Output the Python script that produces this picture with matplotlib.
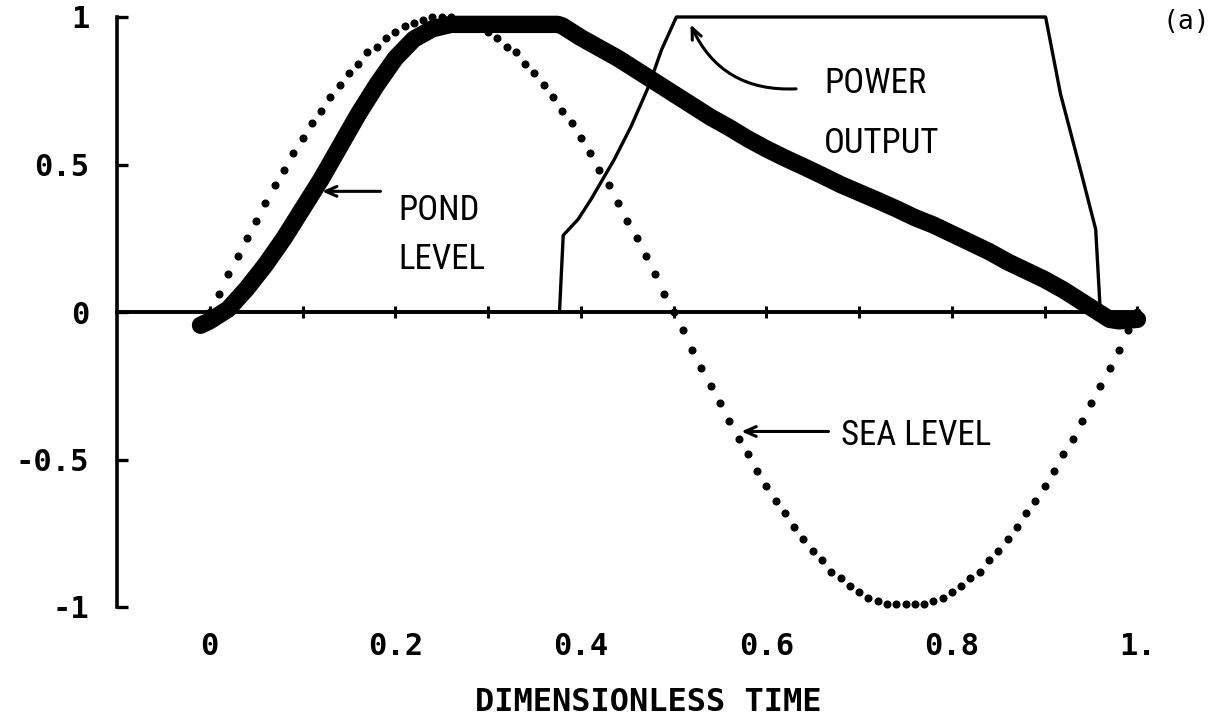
import numpy as np
import matplotlib
matplotlib.use("Agg")
import matplotlib.pyplot as plt
import matplotlib.font_manager as fm

# ---------------- data ----------------
sea_time = [0.00, 0.01, 0.02, 0.03, 0.04, 0.05, 0.06, 0.07, 0.08, 0.09,
            0.10, 0.11, 0.12, 0.13, 0.14, 0.15, 0.16, 0.17, 0.18, 0.19,
            0.20, 0.21, 0.22, 0.23, 0.24, 0.25, 0.26, 0.27, 0.28, 0.29,
            0.30, 0.31, 0.32, 0.33, 0.34, 0.35, 0.36, 0.37, 0.38, 0.39,
            0.40, 0.41, 0.42, 0.43, 0.44, 0.45, 0.46, 0.47, 0.48, 0.49,
            0.50, 0.51, 0.52, 0.53, 0.54, 0.55, 0.56, 0.57, 0.58, 0.59,
            0.60, 0.61, 0.62, 0.63, 0.64, 0.65, 0.66, 0.67, 0.68, 0.69,
            0.70, 0.71, 0.72, 0.73, 0.74, 0.75, 0.76, 0.77, 0.78, 0.79,
            0.80, 0.81, 0.82, 0.83, 0.84, 0.85, 0.86, 0.87, 0.88, 0.89,
            0.90, 0.91, 0.92, 0.93, 0.94, 0.95, 0.96, 0.97, 0.98, 0.99, 1.00]
sea_level = [0.00, 0.06, 0.13, 0.19, 0.25, 0.31, 0.37, 0.43, 0.48, 0.54,
             0.59, 0.64, 0.68, 0.73, 0.77, 0.81, 0.84, 0.88, 0.90, 0.93,
             0.95, 0.97, 0.98, 0.99, 1.00, 1.00, 1.00, 0.99, 0.98, 0.97,
             0.95, 0.93, 0.90, 0.88, 0.84, 0.81, 0.77, 0.73, 0.68, 0.64,
             0.59, 0.54, 0.48, 0.43, 0.37, 0.31, 0.25, 0.19, 0.13, 0.06,
             0.00, -0.06, -0.13, -0.19, -0.25, -0.31, -0.37, -0.43, -0.48, -0.54,
             -0.59, -0.64, -0.68, -0.73, -0.77, -0.81, -0.84, -0.88, -0.90, -0.93,
             -0.95, -0.97, -0.98, -0.99, -0.99, -0.99, -0.99, -0.99, -0.98, -0.97,
             -0.95, -0.93, -0.90, -0.88, -0.84, -0.81, -0.77, -0.73, -0.68, -0.64,
             -0.59, -0.54, -0.48, -0.43, -0.37, -0.31, -0.25, -0.19, -0.13, -0.06, 0.00]

pond_time = [-0.01, 0.00, 0.02, 0.04, 0.06, 0.08, 0.10, 0.12, 0.14, 0.16,
             0.18, 0.20, 0.22, 0.24, 0.26, 0.30, 0.34, 0.375, 0.38, 0.40,
             0.42, 0.44, 0.46, 0.48, 0.50, 0.52, 0.54, 0.56, 0.58, 0.60,
             0.62, 0.64, 0.66, 0.68, 0.70, 0.72, 0.74, 0.76, 0.78, 0.80,
             0.82, 0.84, 0.86, 0.88, 0.90, 0.92, 0.94, 0.96, 0.97, 0.98, 1.00]
pond_level = [-0.045, -0.03, 0.01, 0.08, 0.16, 0.25, 0.35, 0.45, 0.56, 0.67,
              0.77, 0.86, 0.925, 0.96, 0.975, 0.975, 0.975, 0.975, 0.97, 0.93,
              0.895, 0.86, 0.82, 0.78, 0.74, 0.70, 0.66, 0.625, 0.587, 0.553,
              0.522, 0.493, 0.463, 0.432, 0.405, 0.378, 0.35, 0.32, 0.295, 0.265,
              0.235, 0.205, 0.17, 0.14, 0.11, 0.075, 0.035, -0.005, -0.025, -0.03, -0.025]

power_time = [0.00, 0.377, 0.381, 0.397, 0.411, 0.436, 0.454, 0.473, 0.487, 0.503,
              0.901, 0.917, 0.942, 0.955, 0.960]
power_output = [0.00, 0.00, 0.26, 0.314, 0.382, 0.517, 0.628, 0.764, 0.889, 1.00,
                1.00, 0.74, 0.44, 0.28, 0.00]

x_minor_ticks = [0.0, 0.1, 0.2, 0.3, 0.4, 0.5, 0.6, 0.7, 0.8, 0.9, 1.0]
x_tick_values = [0.0, 0.2, 0.4, 0.6, 0.8, 1.0]
x_tick_labels = ['0', '0.2', '0.4', '0.6', '0.8', '1.']
y_tick_values = [-1.0, -0.5, 0.0, 0.5, 1.0]
y_tick_labels = ['-1', '-0.5', '0', '0.5', '1']

x_label = 'DIMENSIONLESS TIME'
label_pond = 'POND\nLEVEL'
label_power = 'POWER\nOUTPUT'
label_sea = 'SEA LEVEL'
panel_label = '(a)'

# ---------------- fonts ----------------
available = {f.name for f in fm.fontManager.ttflist}
narrow = None
for cand in ['Liberation Sans Narrow', 'Roboto Condensed', 'Noto Sans ExtraCondensed',
             'Noto Sans Condensed', 'Open Sans Condensed', 'DejaVu Sans Condensed']:
    if cand in available:
        narrow = cand
        break
if narrow is None:
    note_family = ['Liberation Sans', 'DejaVu Sans']
    note_size = 21
else:
    note_family = [narrow, 'DejaVu Sans']
    note_size = 25

mono = ['DejaVu Sans Mono', 'DejaVu Sans']
tick_size = 22
xlabel_size = 23

# ---------------- figure ----------------
fig = plt.figure(figsize=(12.14, 7.16), dpi=100)
ax = fig.add_axes([117 / 1214, (716 - 607) / 716, (1156 - 117) / 1214, (607 - 17) / 716])
ax.set_xlim(-0.1, 1.02)
ax.set_ylim(-1.0, 1.0)

for s in ['top', 'right']:
    ax.spines[s].set_visible(False)
ax.spines['left'].set_linewidth(2.6)
ax.spines['bottom'].set_position(('data', 0))
ax.spines['bottom'].set_linewidth(2.8)
ax.spines['bottom'].set_bounds(-0.1, 1.0)

ax.set_xticks(x_minor_ticks)
ax.tick_params(axis='x', direction='inout', length=9, width=2.2, labelbottom=False)
ax.set_yticks(y_tick_values, labels=y_tick_labels)
ax.tick_params(axis='y', direction='in', length=8, width=2.4, pad=20)
for lab in ax.get_yticklabels():
    lab.set_fontfamily(mono)
    lab.set_fontweight('bold')
    lab.set_fontsize(tick_size)

sec = ax.secondary_xaxis('bottom')
sec.set_xticks(x_tick_values, labels=x_tick_labels)
sec.spines['bottom'].set_visible(False)
sec.tick_params(length=0, pad=18)
for lab in sec.get_xticklabels():
    lab.set_fontfamily(mono)
    lab.set_fontweight('bold')
    lab.set_fontsize(tick_size)
sec.set_xlabel(x_label, fontfamily=mono, fontweight='bold', fontsize=xlabel_size,
               labelpad=19)
sec.xaxis.label.set_x(0.511)

# curves
ax.plot(sea_time, sea_level, linestyle='none', marker='o', ms=4.8,
        color='black', zorder=2, clip_on=False)
ax.plot(pond_time, pond_level, color='black', lw=12.5, solid_capstyle='round',
        solid_joinstyle='round', zorder=3, clip_on=False)
ax.plot(power_time, power_output, color='black', lw=2.4, zorder=4, clip_on=False)

# annotations
arrow_kw = dict(arrowstyle='->,head_length=0.8,head_width=0.35', lw=2.2, color='black')
ax.annotate('', xy=(0.118, 0.409), xytext=(0.187, 0.409), arrowprops=arrow_kw)
ax.text(0.203, 0.40, label_pond, ha='left', va='top', family=note_family,
        fontsize=note_size, linespacing=1.6)

ax.annotate('', xy=(0.517, 0.983), xytext=(0.635, 0.757),
            arrowprops=dict(arrow_kw, connectionstyle='arc3,rad=-0.35'))
ax.text(0.662, 0.83, label_power, ha='left', va='top', family=note_family,
        fontsize=note_size, linespacing=2.05)

ax.annotate('', xy=(0.570, -0.405), xytext=(0.670, -0.405), arrowprops=arrow_kw)
ax.text(0.680, -0.42, label_sea, ha='left', va='center', family=note_family,
        fontsize=note_size)

fig.text(1186 / 1214, 1 - 22 / 716, panel_label, ha='center', va='center',
         family=mono, fontsize=19)

fig.savefig('out.png', dpi=100, facecolor='white')
